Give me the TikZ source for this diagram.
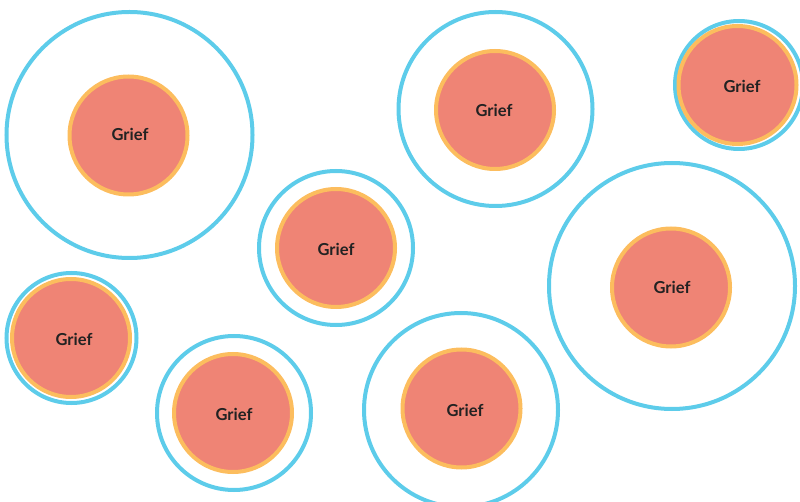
\documentclass[tikz,border=0pt]{standalone}
\usepackage{fontspec}
\setmainfont{Lato}
\definecolor{ringblue}{HTML}{5DCCEA}
\definecolor{ringorange}{HTML}{FCBD5E}
\definecolor{griefred}{HTML}{EF8475}
\definecolor{txt}{HTML}{222222}
\tikzset{
  outerring/.style={circle, draw=ringblue, line width=4pt, inner sep=0pt, outer sep=0pt},
  griefcore/.style={circle, draw=ringorange, fill=griefred, line width=4pt, minimum size=118pt,
    inner sep=0pt, outer sep=0pt},
  grieftext/.style={inner sep=0pt, text=txt, font=\fontsize{16.5}{19}\selectfont\bfseries}
}
\begin{document}
\begin{tikzpicture}[x=1pt,y=-1pt]
\useasboundingbox (0,0) rectangle (800,502);
\begin{scope}
\clip (0,0) rectangle (800,502);
\node[outerring, minimum size=246pt] (o1) at (129.5,135) {};
\node[outerring, minimum size=194pt] (o2) at (495.5,109) {};
\node[outerring, minimum size=128pt] (o3) at (739,85) {};
\node[outerring, minimum size=154pt] (o4) at (336,248) {};
\node[outerring, minimum size=246pt] (o5) at (672,286) {};
\node[outerring, minimum size=130pt] (o6) at (71.5,338) {};
\node[outerring, minimum size=154pt] (o7) at (234,413) {};
\node[outerring, minimum size=194pt] (o8) at (461,410) {};

\node[griefcore] (g1) at (128.5,135.5) {};
\node[griefcore] (g2) at (495,110) {};
\node[griefcore] (g3) at (737.5,85) {};
\node[griefcore] (g4) at (336,248) {};
\node[griefcore] (g5) at (671,287.5) {};
\node[griefcore] (g6) at (71,338) {};
\node[griefcore] (g7) at (233,413) {};
\node[griefcore] (g8) at (461.5,408.5) {};

\node[grieftext] (t1) at (130,134) {Grief};
\node[grieftext] (t2) at (494,110) {Grief};
\node[grieftext] (t3) at (742,86) {Grief};
\node[grieftext] (t4) at (336,249) {Grief};
\node[grieftext] (t5) at (672,287) {Grief};
\node[grieftext] (t6) at (74,339) {Grief};
\node[grieftext] (t7) at (234,414) {Grief};
\node[grieftext] (t8) at (465,410) {Grief};
\end{scope}
\end{tikzpicture}
\end{document}
